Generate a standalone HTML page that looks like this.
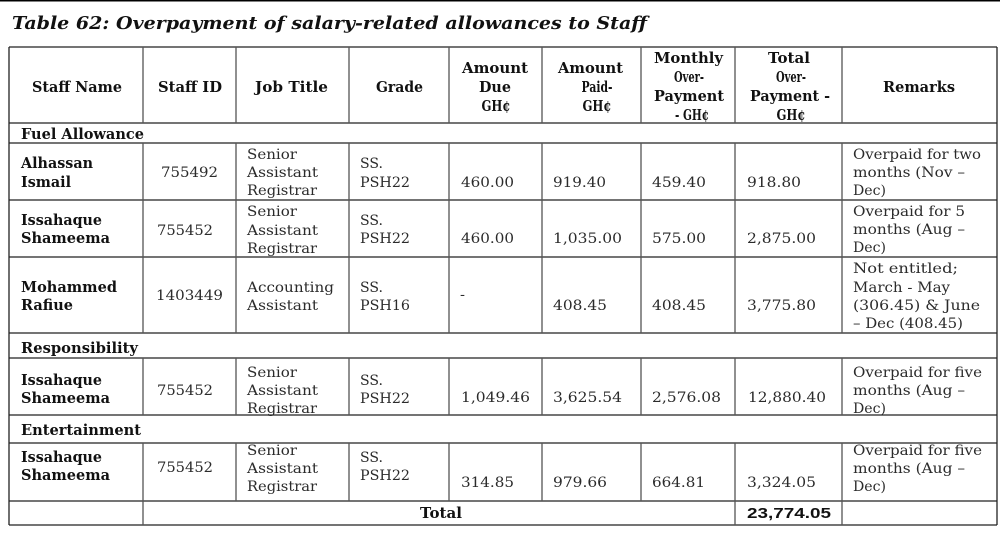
<!DOCTYPE html>
<html>
<head>
<meta charset="utf-8">
<style>
html,body{margin:0;padding:0;background:#fff;}
svg{display:block;}
.r{font-family:"DejaVu Serif","Liberation Serif",serif;font-size:14px;fill:#2b2b2b;}
.b{font-family:"DejaVu Serif","Liberation Serif",serif;font-size:15px;font-weight:bold;fill:#111;}
.bs{font-family:"DejaVu Serif","Liberation Serif",serif;font-size:15px;font-weight:bold;fill:#111;text-anchor:middle;}
.t{font-family:"DejaVu Serif","Liberation Serif",serif;font-size:18px;font-weight:bold;font-style:italic;fill:#111;}
.s{font-family:"Liberation Sans",Arial,sans-serif;font-size:15px;font-weight:bold;fill:#111;}
.h{stroke:#222;stroke-width:1.3;}
.v{stroke:#555;stroke-width:1.3;}
</style>
</head>
<body>
<svg width="1000" height="533" viewBox="0 0 1000 533" xmlns="http://www.w3.org/2000/svg">
<rect x="0" y="0" width="1000" height="533" fill="#fff"/>
<line x1="0" y1="0.7" x2="1000" y2="0.7" stroke="#000" stroke-width="1.6"/>

<text class="t" x="12" y="29" textLength="635" lengthAdjust="spacingAndGlyphs">Table 62: Overpayment of salary-related allowances to Staff</text>

<!-- horizontal lines -->
<g class="h">
<line x1="9" y1="47" x2="997" y2="47"/>
<line x1="9" y1="123" x2="997" y2="123"/>
<line x1="9" y1="143" x2="997" y2="143"/>
<line x1="9" y1="200" x2="997" y2="200"/>
<line x1="9" y1="257" x2="997" y2="257"/>
<line x1="9" y1="333" x2="997" y2="333"/>
<line x1="9" y1="358" x2="997" y2="358"/>
<line x1="9" y1="415" x2="997" y2="415"/>
<line x1="9" y1="443" x2="997" y2="443"/>
<line x1="9" y1="501" x2="997" y2="501"/>
<line x1="9" y1="525" x2="997" y2="525"/>
</g>
<!-- outer verticals -->
<g class="h">
<line x1="9" y1="47" x2="9" y2="525"/>
<line x1="997" y1="47" x2="997" y2="525"/>
</g>
<!-- inner verticals -->
<g class="v">
<line x1="143" y1="47" x2="143" y2="123"/><line x1="236" y1="47" x2="236" y2="123"/><line x1="349" y1="47" x2="349" y2="123"/><line x1="449" y1="47" x2="449" y2="123"/><line x1="542" y1="47" x2="542" y2="123"/><line x1="641" y1="47" x2="641" y2="123"/><line x1="735" y1="47" x2="735" y2="123"/><line x1="842" y1="47" x2="842" y2="123"/>
<line x1="143" y1="143" x2="143" y2="333"/><line x1="236" y1="143" x2="236" y2="333"/><line x1="349" y1="143" x2="349" y2="333"/><line x1="449" y1="143" x2="449" y2="333"/><line x1="542" y1="143" x2="542" y2="333"/><line x1="641" y1="143" x2="641" y2="333"/><line x1="735" y1="143" x2="735" y2="333"/><line x1="842" y1="143" x2="842" y2="333"/>
<line x1="143" y1="358" x2="143" y2="415"/><line x1="236" y1="358" x2="236" y2="415"/><line x1="349" y1="358" x2="349" y2="415"/><line x1="449" y1="358" x2="449" y2="415"/><line x1="542" y1="358" x2="542" y2="415"/><line x1="641" y1="358" x2="641" y2="415"/><line x1="735" y1="358" x2="735" y2="415"/><line x1="842" y1="358" x2="842" y2="415"/>
<line x1="143" y1="443" x2="143" y2="501"/><line x1="236" y1="443" x2="236" y2="501"/><line x1="349" y1="443" x2="349" y2="501"/><line x1="449" y1="443" x2="449" y2="501"/><line x1="542" y1="443" x2="542" y2="501"/><line x1="641" y1="443" x2="641" y2="501"/><line x1="735" y1="443" x2="735" y2="501"/><line x1="842" y1="443" x2="842" y2="501"/>
<line x1="143" y1="501" x2="143" y2="525"/><line x1="735" y1="501" x2="735" y2="525"/><line x1="842" y1="501" x2="842" y2="525"/>
</g>

<!-- header -->
<text class="b" x="32" y="92" textLength="90" lengthAdjust="spacingAndGlyphs">Staff Name</text>
<text class="b" x="158" y="92" textLength="64" lengthAdjust="spacingAndGlyphs">Staff ID</text>
<text class="b" x="255" y="92" textLength="73" lengthAdjust="spacingAndGlyphs">Job Title</text>
<text class="b" x="376" y="92" textLength="47" lengthAdjust="spacingAndGlyphs">Grade</text>
<text class="b" x="462" y="73" textLength="66" lengthAdjust="spacingAndGlyphs">Amount</text>
<text class="bs" x="495" y="92" textLength="32" lengthAdjust="spacingAndGlyphs">Due</text>
<text class="bs" x="496" y="111" textLength="29" lengthAdjust="spacingAndGlyphs">GH¢</text>
<text class="b" x="558" y="73" textLength="65" lengthAdjust="spacingAndGlyphs">Amount</text>
<text class="bs" x="597" y="92" textLength="31" lengthAdjust="spacingAndGlyphs">Paid-</text>
<text class="bs" x="597" y="111" textLength="29" lengthAdjust="spacingAndGlyphs">GH¢</text>
<text class="b" x="654" y="63" textLength="69" lengthAdjust="spacingAndGlyphs">Monthly</text>
<text class="bs" x="689" y="82" textLength="30" lengthAdjust="spacingAndGlyphs">Over-</text>
<text class="b" x="654" y="101" textLength="70" lengthAdjust="spacingAndGlyphs">Payment</text>
<text class="bs" x="692" y="120" textLength="34" lengthAdjust="spacingAndGlyphs">- GH¢</text>
<text class="b" x="768" y="63" textLength="42" lengthAdjust="spacingAndGlyphs">Total</text>
<text class="bs" x="791" y="82" textLength="30" lengthAdjust="spacingAndGlyphs">Over-</text>
<text class="b" x="750" y="101" textLength="80" lengthAdjust="spacingAndGlyphs">Payment -</text>
<text class="bs" x="791" y="120" textLength="29" lengthAdjust="spacingAndGlyphs">GH¢</text>
<text class="b" x="883" y="92" textLength="72" lengthAdjust="spacingAndGlyphs">Remarks</text>

<!-- Fuel Allowance -->
<text class="b" x="21" y="139" textLength="123" lengthAdjust="spacingAndGlyphs">Fuel Allowance</text>

<!-- Row 1 -->
<text class="b" x="21" y="168" textLength="72" lengthAdjust="spacingAndGlyphs">Alhassan</text>
<text class="b" x="21" y="187" textLength="50" lengthAdjust="spacingAndGlyphs">Ismail</text>
<text class="r" x="161" y="177" textLength="57" lengthAdjust="spacingAndGlyphs">755492</text>
<text class="r" x="247" y="159" textLength="50" lengthAdjust="spacingAndGlyphs">Senior</text>
<text class="r" x="247" y="177" textLength="71" lengthAdjust="spacingAndGlyphs">Assistant</text>
<text class="r" x="247" y="195" textLength="70" lengthAdjust="spacingAndGlyphs">Registrar</text>
<text class="r" x="360" y="168" textLength="23" lengthAdjust="spacingAndGlyphs">SS.</text>
<text class="r" x="360" y="187" textLength="50" lengthAdjust="spacingAndGlyphs">PSH22</text>
<text class="r" x="461" y="187" textLength="53" lengthAdjust="spacingAndGlyphs">460.00</text>
<text class="r" x="553" y="187" textLength="53" lengthAdjust="spacingAndGlyphs">919.40</text>
<text class="r" x="652" y="187" textLength="54" lengthAdjust="spacingAndGlyphs">459.40</text>
<text class="r" x="747" y="187" textLength="54" lengthAdjust="spacingAndGlyphs">918.80</text>
<text class="r" x="853" y="159" textLength="128" lengthAdjust="spacingAndGlyphs">Overpaid for two</text>
<text class="r" x="853" y="177" textLength="112" lengthAdjust="spacingAndGlyphs">months (Nov –</text>
<text class="r" x="853" y="195" textLength="33" lengthAdjust="spacingAndGlyphs">Dec)</text>

<!-- Row 2 -->
<text class="b" x="21" y="225" textLength="81" lengthAdjust="spacingAndGlyphs">Issahaque</text>
<text class="b" x="21" y="243" textLength="89" lengthAdjust="spacingAndGlyphs">Shameema</text>
<text class="r" x="157" y="235" textLength="56" lengthAdjust="spacingAndGlyphs">755452</text>
<text class="r" x="247" y="216" textLength="50" lengthAdjust="spacingAndGlyphs">Senior</text>
<text class="r" x="247" y="235" textLength="71" lengthAdjust="spacingAndGlyphs">Assistant</text>
<text class="r" x="247" y="253" textLength="70" lengthAdjust="spacingAndGlyphs">Registrar</text>
<text class="r" x="360" y="225" textLength="23" lengthAdjust="spacingAndGlyphs">SS.</text>
<text class="r" x="360" y="243" textLength="50" lengthAdjust="spacingAndGlyphs">PSH22</text>
<text class="r" x="461" y="243" textLength="53" lengthAdjust="spacingAndGlyphs">460.00</text>
<text class="r" x="553" y="243" textLength="69" lengthAdjust="spacingAndGlyphs">1,035.00</text>
<text class="r" x="652" y="243" textLength="54" lengthAdjust="spacingAndGlyphs">575.00</text>
<text class="r" x="747" y="243" textLength="69" lengthAdjust="spacingAndGlyphs">2,875.00</text>
<text class="r" x="853" y="216" textLength="112" lengthAdjust="spacingAndGlyphs">Overpaid for 5</text>
<text class="r" x="853" y="234" textLength="112" lengthAdjust="spacingAndGlyphs">months (Aug –</text>
<text class="r" x="853" y="252" textLength="33" lengthAdjust="spacingAndGlyphs">Dec)</text>

<!-- Row 3 -->
<text class="b" x="21" y="292" textLength="96" lengthAdjust="spacingAndGlyphs">Mohammed</text>
<text class="b" x="21" y="310" textLength="52" lengthAdjust="spacingAndGlyphs">Rafiue</text>
<text class="r" x="156" y="300" textLength="67" lengthAdjust="spacingAndGlyphs">1403449</text>
<text class="r" x="247" y="292" textLength="87" lengthAdjust="spacingAndGlyphs">Accounting</text>
<text class="r" x="247" y="310" textLength="71" lengthAdjust="spacingAndGlyphs">Assistant</text>
<text class="r" x="360" y="292" textLength="23" lengthAdjust="spacingAndGlyphs">SS.</text>
<text class="r" x="360" y="310" textLength="50" lengthAdjust="spacingAndGlyphs">PSH16</text>
<text class="r" x="460" y="299" textLength="5" lengthAdjust="spacingAndGlyphs">-</text>
<text class="r" x="553" y="310" textLength="54" lengthAdjust="spacingAndGlyphs">408.45</text>
<text class="r" x="652" y="310" textLength="54" lengthAdjust="spacingAndGlyphs">408.45</text>
<text class="r" x="747" y="310" textLength="69" lengthAdjust="spacingAndGlyphs">3,775.80</text>
<text class="r" x="853" y="273" textLength="105" lengthAdjust="spacingAndGlyphs">Not entitled;</text>
<text class="r" x="853" y="292" textLength="97" lengthAdjust="spacingAndGlyphs">March - May</text>
<text class="r" x="853" y="310" textLength="127" lengthAdjust="spacingAndGlyphs">(306.45) &amp; June</text>
<text class="r" x="853" y="328" textLength="110" lengthAdjust="spacingAndGlyphs">– Dec (408.45)</text>

<!-- Responsibility -->
<text class="b" x="21" y="353" textLength="117" lengthAdjust="spacingAndGlyphs">Responsibility</text>

<!-- Row 4 -->
<text class="b" x="21" y="385" textLength="81" lengthAdjust="spacingAndGlyphs">Issahaque</text>
<text class="b" x="21" y="403" textLength="89" lengthAdjust="spacingAndGlyphs">Shameema</text>
<text class="r" x="157" y="395" textLength="56" lengthAdjust="spacingAndGlyphs">755452</text>
<text class="r" x="247" y="377" textLength="50" lengthAdjust="spacingAndGlyphs">Senior</text>
<text class="r" x="247" y="395" textLength="71" lengthAdjust="spacingAndGlyphs">Assistant</text>
<text class="r" x="247" y="413" textLength="70" lengthAdjust="spacingAndGlyphs">Registrar</text>
<text class="r" x="360" y="385" textLength="23" lengthAdjust="spacingAndGlyphs">SS.</text>
<text class="r" x="360" y="403" textLength="50" lengthAdjust="spacingAndGlyphs">PSH22</text>
<text class="r" x="461" y="402" textLength="69" lengthAdjust="spacingAndGlyphs">1,049.46</text>
<text class="r" x="553" y="402" textLength="69" lengthAdjust="spacingAndGlyphs">3,625.54</text>
<text class="r" x="652" y="402" textLength="69" lengthAdjust="spacingAndGlyphs">2,576.08</text>
<text class="r" x="748" y="402" textLength="78" lengthAdjust="spacingAndGlyphs">12,880.40</text>
<text class="r" x="853" y="377" textLength="129" lengthAdjust="spacingAndGlyphs">Overpaid for five</text>
<text class="r" x="853" y="395" textLength="112" lengthAdjust="spacingAndGlyphs">months (Aug –</text>
<text class="r" x="853" y="413" textLength="33" lengthAdjust="spacingAndGlyphs">Dec)</text>

<!-- Entertainment -->
<text class="b" x="21" y="435" textLength="120" lengthAdjust="spacingAndGlyphs">Entertainment</text>

<!-- Row 5 -->
<text class="b" x="21" y="462" textLength="81" lengthAdjust="spacingAndGlyphs">Issahaque</text>
<text class="b" x="21" y="480" textLength="89" lengthAdjust="spacingAndGlyphs">Shameema</text>
<text class="r" x="157" y="472" textLength="56" lengthAdjust="spacingAndGlyphs">755452</text>
<text class="r" x="247" y="455" textLength="50" lengthAdjust="spacingAndGlyphs">Senior</text>
<text class="r" x="247" y="473" textLength="71" lengthAdjust="spacingAndGlyphs">Assistant</text>
<text class="r" x="247" y="491" textLength="70" lengthAdjust="spacingAndGlyphs">Registrar</text>
<text class="r" x="360" y="462" textLength="23" lengthAdjust="spacingAndGlyphs">SS.</text>
<text class="r" x="360" y="480" textLength="50" lengthAdjust="spacingAndGlyphs">PSH22</text>
<text class="r" x="461" y="487" textLength="53" lengthAdjust="spacingAndGlyphs">314.85</text>
<text class="r" x="553" y="487" textLength="54" lengthAdjust="spacingAndGlyphs">979.66</text>
<text class="r" x="652" y="487" textLength="53" lengthAdjust="spacingAndGlyphs">664.81</text>
<text class="r" x="747" y="487" textLength="69" lengthAdjust="spacingAndGlyphs">3,324.05</text>
<text class="r" x="853" y="455" textLength="129" lengthAdjust="spacingAndGlyphs">Overpaid for five</text>
<text class="r" x="853" y="473" textLength="112" lengthAdjust="spacingAndGlyphs">months (Aug –</text>
<text class="r" x="853" y="491" textLength="33" lengthAdjust="spacingAndGlyphs">Dec)</text>

<!-- Total row -->
<text class="b" x="420" y="518" textLength="42" lengthAdjust="spacingAndGlyphs">Total</text>
<text class="s" x="747" y="518" textLength="84" lengthAdjust="spacingAndGlyphs">23,774.05</text>
</svg>
</body>
</html>
